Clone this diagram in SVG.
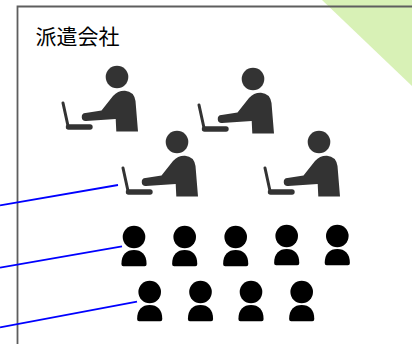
<svg xmlns="http://www.w3.org/2000/svg" width="412" height="344" viewBox="0 0 412 344">
<style>
.frame{fill:none;stroke:#5e5e5e;stroke-width:1.8}
.link{fill:none;stroke:#0000ff;stroke-width:1.8}
.w{fill:#333333}
.wl{fill:none;stroke:#333333;stroke-linecap:round}
.p{fill:#000000}
.label{font-family:"Noto Sans CJK JP","Noto Sans CJK SC",sans-serif;font-size:21px;fill:#000000}
</style>
<defs>
<g id="worker">
<circle class="w" cx="117" cy="77" r="11.3"/>
<path class="w" d="M116.3 131.5L115.7 119L86 121A4 4 0 0 1 85.5 113L101.5 110.5L113 96Q118 90.5 125 90.8Q134 91.5 135.5 101L138 131.5Z"/>
<path class="wl" stroke-width="3" d="M63 103L67.8 125"/>
<path class="wl" stroke-width="5.4" d="M68.5 127H90"/>
</g>
<g id="person">
<circle class="p" cx="0" cy="0" r="11.3"/>
<path class="p" d="M-10.6 29.3Q-12.6 29.3 -12.6 27C-12.6 17.5 -7.5 13 0 13C7.5 13 12.6 17.5 12.6 27Q12.6 29.3 10.6 29.3Z"/>
</g>
</defs>
<path d="M322 0H412V86Z" fill="#d8f1b6"/>
<g id="company">
<path class="frame" d="M413 6.5H17.5V345"/>
<text class="label" x="35.5" y="43.5">派遣会社</text>
</g>
<g id="connectors">
<path class="link" d="M0 205.3L118 185"/>
<path class="link" d="M0 267.7L122 246.3"/>
<path class="link" d="M0 327.3L137 301.7"/>
</g>
<g id="worker-1"><use href="#worker"/></g>
<g id="worker-2"><use href="#worker" x="136" y="2"/></g>
<g id="worker-3"><use href="#worker" x="60" y="65"/></g>
<g id="worker-4"><use href="#worker" x="202" y="65"/></g>
<g id="person-1"><use href="#person" x="134" y="237"/></g>
<g id="person-2"><use href="#person" x="184.7" y="237"/></g>
<g id="person-3"><use href="#person" x="235.7" y="237"/></g>
<g id="person-4"><use href="#person" x="286.7" y="236"/></g>
<g id="person-5"><use href="#person" x="337.3" y="236"/></g>
<g id="person-6"><use href="#person" x="149.7" y="292"/></g>
<g id="person-7"><use href="#person" x="200.5" y="292"/></g>
<g id="person-8"><use href="#person" x="251" y="292"/></g>
<g id="person-9"><use href="#person" x="301.7" y="292"/></g>
</svg>
